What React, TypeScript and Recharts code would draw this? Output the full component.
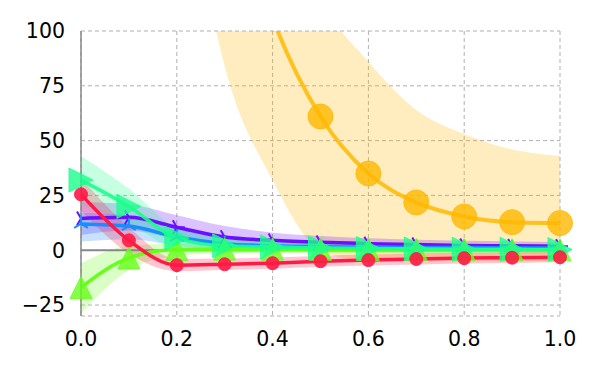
import React from "react";
import {
  ComposedChart,
  Line,
  Area,
  XAxis,
  YAxis,
  CartesianGrid,
  ReferenceLine,
} from "recharts";

const xs = [0, 0.1, 0.2, 0.3, 0.4, 0.5, 0.6, 0.7, 0.8, 0.9, 1.0];
const xTicks = [0, 0.2, 0.4, 0.6, 0.8, 1.0];
const yTicks = [-25, 0, 25, 50, 75, 100];

const yellowMean = [950, 560, 330, 180, 106, 61, 35, 21.8, 15.4, 12.8, 12.4];
const yellowLow = [600, 380, 200, 84, 32, 0, -5, -5, -5, -5, -5];
const yellowHigh = [1300, 900, 560, 330, 175, 115, 86, 64, 53, 46, 43];

const redMean = [25.5, 4.5, -6.8, -6.4, -5.9, -5.0, -4.5, -4.0, -3.6, -3.4, -3.2];
const redLow = [18, -1.5, -9.5, -9, -8.5, -7.5, -7, -6.5, -6, -5.8, -5.5];
const redHigh = [33, 10.5, -4, -3.8, -3.3, -2.5, -2, -1.5, -1.2, -1, -0.9];

const greenMean = [-17, -3.5, 0.3, 0.5, 0.5, 0.4, 0.3, 0.3, 0.2, 0.2, 0.2];
const greenLow = [-29, -9, -2.5, -1.5, -1.5, -1.5, -1.5, -1.5, -1.5, -1.5, -1.5];
const greenHigh = [-6, 2, 3, 2.5, 2.2, 2, 2, 2, 2, 2, 2];

const mintMean = [32, 20, 5.5, 2, 1.5, 1, 0.8, 0.6, 0.5, 0.4, 0.3];
const mintLow = [21, 12, 1, -1, -0.5, -0.8, -1, -1, -1, -1, -1];
const mintHigh = [43, 28, 10, 5, 3.5, 2.8, 2.5, 2.2, 2, 1.8, 1.7];

const purpleMean = [14.5, 15, 10.5, 6, 4.5, 3.6, 3, 2.6, 2.2, 2, 1.8];
const purpleLow = [7, 9, 5, 2, 1.2, 0.8, 0.5, 0.4, 0.2, 0.1, 0];
const purpleHigh = [22, 21, 16, 11, 8, 6.5, 5.5, 4.8, 4.3, 4, 3.7];

const blueMean = [12, 11, 6, 3, 2, 1.6, 1.4, 1.3, 1.2, 1.1, 1];
const blueLow = [4, 5, 2, 0, -0.3, -0.5, -0.5, -0.5, -0.5, -0.5, -0.5];
const blueHigh = [17, 16, 10, 6, 4, 3.5, 3.2, 3, 2.8, 2.7, 2.6];

const data = xs.map((x, i) => ({
  x,
  yellow: yellowMean[i],
  yellowBand: [yellowLow[i], yellowHigh[i]],
  red: redMean[i],
  redBand: [redLow[i], redHigh[i]],
  green: greenMean[i],
  greenBand: [greenLow[i], greenHigh[i]],
  mint: mintMean[i],
  mintBand: [mintLow[i], mintHigh[i]],
  purple: purpleMean[i],
  purpleBand: [purpleLow[i], purpleHigh[i]],
  blue: blueMean[i],
  blueBand: [blueLow[i], blueHigh[i]],
}));

const C = {
  yellow: "#ffb800",
  red: "#ff1a45",
  green: "#66ff1a",
  mint: "#1aff8c",
  purple: "#6a10ff",
  blue: "#1a8cff",
};

const ok = (p: any) => p && Number.isFinite(p.cx) && Number.isFinite(p.cy);

const circleDot = (color: string, r: number, op: number) => (p: any) =>
  ok(p) ? (
    <circle key={`c${p.index}`} cx={p.cx} cy={p.cy} r={r} fill={color} fillOpacity={op} stroke={color} strokeOpacity={op} strokeWidth={1} />
  ) : (
    <g key={`c${p.index}`} />
  );

const triUpDot = (color: string, r: number) => (p: any) =>
  ok(p) ? (
    <polygon
      key={`tu${p.index}`}
      points={`${p.cx},${p.cy - r} ${p.cx - r},${p.cy + r} ${p.cx + r},${p.cy + r}`}
      fill={color}
      fillOpacity={0.8}
      stroke={color}
      strokeOpacity={0.8}
    />
  ) : (
    <g key={`tu${p.index}`} />
  );

const triRightDot = (color: string, r: number) => (p: any) =>
  ok(p) ? (
    <polygon
      key={`tr${p.index}`}
      points={`${p.cx + r},${p.cy} ${p.cx - r},${p.cy - r} ${p.cx - r},${p.cy + r}`}
      fill={color}
      fillOpacity={0.8}
      stroke={color}
      strokeOpacity={0.8}
    />
  ) : (
    <g key={`tr${p.index}`} />
  );

// tri_right: stem to right, arms up-left and down-left
const starRight = (color: string, r: number) => (p: any) =>
  ok(p) ? (
    <g key={`sr${p.index}`} stroke={color} strokeWidth={2}>
      <line x1={p.cx} y1={p.cy} x2={p.cx + r} y2={p.cy} />
      <line x1={p.cx} y1={p.cy} x2={p.cx - r * 0.5} y2={p.cy - r * 0.866} />
      <line x1={p.cx} y1={p.cy} x2={p.cx - r * 0.5} y2={p.cy + r * 0.866} />
    </g>
  ) : (
    <g key={`sr${p.index}`} />
  );

// tri_up: stem up, arms down-left and down-right
const starUp = (color: string, r: number) => (p: any) =>
  ok(p) ? (
    <g key={`su${p.index}`} stroke={color} strokeWidth={2}>
      <line x1={p.cx} y1={p.cy} x2={p.cx} y2={p.cy - r} />
      <line x1={p.cx} y1={p.cy} x2={p.cx - r * 0.866} y2={p.cy + r * 0.5} />
      <line x1={p.cx} y1={p.cy} x2={p.cx + r * 0.866} y2={p.cy + r * 0.5} />
    </g>
  ) : (
    <g key={`su${p.index}`} />
  );

const fmtY = (v: number) => String(v).replace("-", "\u2212");
const fmtX = (v: number) => v.toFixed(1);

export default function App() {
  const tickStyle = { fill: "#000", fontSize: 20.5, fontFamily: "DejaVu Sans" };
  return (
    <ComposedChart
      width={592}
      height={360}
      data={data}
      margin={{ top: 23, right: 40, left: 0, bottom: 0 }}
    >
      <CartesianGrid stroke="#b0b0b0" strokeDasharray="4 3" strokeWidth={1} />
      <XAxis
        dataKey="x"
        type="number"
        domain={[0, 1]}
        ticks={xTicks}
        tickFormatter={fmtX}
        axisLine={false}
        tickLine={false}
        tickSize={6}
        tickMargin={9}
        height={52}
        tick={tickStyle}
        interval={0}
      />
      <YAxis
        type="number"
        domain={[-30, 100]}
        ticks={yTicks}
        tickFormatter={fmtY}
        allowDataOverflow
        axisLine={{ stroke: "#888", strokeWidth: 1.5 }}
        tickLine={false}
        tickSize={6}
        tickMargin={10}
        width={73}
        tick={tickStyle}
        interval={0}
      />
      <ReferenceLine y={0} stroke="#888" strokeWidth={2} />

      <Area type="monotone" dataKey="yellowBand" stroke="none" fill={C.yellow} fillOpacity={0.25} isAnimationActive={false} />
      <Area type="monotone" dataKey="purpleBand" stroke="none" fill={C.purple} fillOpacity={0.25} isAnimationActive={false} />
      <Area type="monotone" dataKey="blueBand" stroke="none" fill={C.blue} fillOpacity={0.25} isAnimationActive={false} />
      <Area type="monotone" dataKey="greenBand" stroke="none" fill={C.green} fillOpacity={0.25} isAnimationActive={false} />
      <Area type="monotone" dataKey="mintBand" stroke="none" fill={C.mint} fillOpacity={0.25} isAnimationActive={false} />
      <Area type="monotone" dataKey="redBand" stroke="none" fill={C.red} fillOpacity={0.25} isAnimationActive={false} />

      <Line type="monotone" dataKey="yellow" stroke={C.yellow} strokeWidth={4} strokeOpacity={0.85} dot={circleDot(C.yellow, 12.5, 0.8)} isAnimationActive={false} />
      <Line type="monotone" dataKey="purple" stroke={C.purple} strokeWidth={3.5} dot={starRight(C.purple, 8)} isAnimationActive={false} />
      <Line type="monotone" dataKey="blue" stroke={C.blue} strokeWidth={3.5} dot={starUp(C.blue, 8)} isAnimationActive={false} />
      <Line type="monotone" dataKey="green" stroke={C.green} strokeWidth={3.5} dot={triUpDot(C.green, 11)} isAnimationActive={false} />
      <Line type="monotone" dataKey="mint" stroke={C.mint} strokeWidth={3.5} strokeOpacity={0.9} dot={triRightDot(C.mint, 12)} isAnimationActive={false} />
      <Line type="monotone" dataKey="red" stroke={C.red} strokeWidth={3.5} dot={circleDot(C.red, 6.5, 0.9)} isAnimationActive={false} />
    </ComposedChart>
  );
}
